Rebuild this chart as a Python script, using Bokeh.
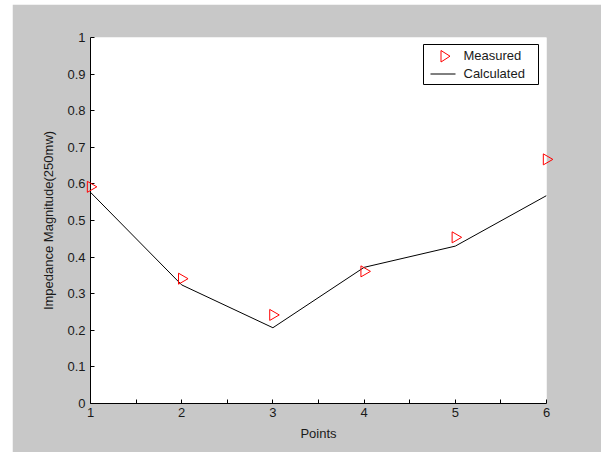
from bokeh.plotting import figure
from bokeh.models import FixedTicker, Range1d, BoxAnnotation, PolyAnnotation, Label
from bokeh.embed import file_html
from bokeh.resources import INLINE

points = [1, 2, 3, 4, 5, 6]
measured = [0.592, 0.341, 0.242, 0.361, 0.454, 0.667]
calculated = [0.577, 0.324, 0.207, 0.372, 0.430, 0.568]
y_ticks = [0, 0.1, 0.2, 0.3, 0.4, 0.5, 0.6, 0.7, 0.8, 0.9, 1]
y_labels = ["0", "0.1", "0.2", "0.3", "0.4", "0.5", "0.6", "0.7", "0.8", "0.9", "1"]
x_minor = [1.5, 2.5, 3.5, 4.5, 5.5]
legend_labels = ["Measured", "Calculated"]

FONT = "Liberation Sans"
GRAY = "#c8c8c8"
TXT = "#1a1a1a"

W, H = 589, 448
BL, BR, BT, BB = 78, 55, 33, 49
p = figure(width=W, height=H, output_backend="svg", toolbar_location=None,
           x_range=Range1d(1, 6), y_range=Range1d(0, 1),
           min_border_left=BL, min_border_right=BR, min_border_top=BT, min_border_bottom=BB,
           styles={"margin-left": "12px", "margin-top": "4px"})
p.border_fill_color = GRAY
p.background_fill_color = "white"
p.outline_line_color = None
p.xgrid.visible = False
p.ygrid.visible = False

p.line(points, calculated, line_color="black", line_width=1)
p.scatter(points, measured, marker="triangle", angle=-1.5707963, size=11,
          line_color="red", fill_color=None, line_width=1, level="overlay")

for ax in (p.xaxis[0], p.yaxis[0]):
    ax.axis_line_color = "black"
    ax.major_tick_line_color = "black"
    ax.minor_tick_line_color = "black"
    ax.major_tick_in = 4
    ax.major_tick_out = 0
    ax.minor_tick_in = 4
    ax.minor_tick_out = 0
    ax.major_label_text_font = FONT
    ax.major_label_text_font_size = "13px"
    ax.major_label_text_color = TXT
    ax.axis_label_text_font = FONT
    ax.axis_label_text_font_size = "13px"
    ax.axis_label_text_font_style = "normal"
    ax.axis_label_text_color = TXT

p.xaxis.ticker = FixedTicker(ticks=points, minor_ticks=x_minor)
p.yaxis.ticker = FixedTicker(ticks=y_ticks, minor_ticks=[])
p.yaxis.major_label_overrides = {t: l for t, l in zip(y_ticks, y_labels)}
p.xaxis.major_label_standoff = 4
p.yaxis.major_label_standoff = 5
p.xaxis.axis_label = "Points"
p.yaxis.axis_label = "Impedance Magnitude(250mw)"
p.xaxis.axis_label_standoff = 6
p.yaxis.axis_label_standoff = 8

# Legend drawn with annotations in screen units (relative to frame: x from left, y from bottom)
FB = H - BB  # frame bottom, from figure top


def sx(x):
    return x - BL


def sy(y):
    return FB - y


p.add_layout(BoxAnnotation(left=sx(411), right=sx(526), top=sy(40), bottom=sy(80),
                           left_units="screen", right_units="screen",
                           top_units="screen", bottom_units="screen",
                           fill_color="white", fill_alpha=1,
                           line_color="black", line_alpha=1, line_width=1, level="overlay"))
p.add_layout(PolyAnnotation(xs=[sx(428.5), sx(428.5), sx(437.5)], ys=[sy(46), sy(57.5), sy(51.7)],
                            xs_units="screen", ys_units="screen",
                            fill_color=None, fill_alpha=0, line_color="red", line_alpha=1,
                            line_width=1, level="overlay"))
p.add_layout(PolyAnnotation(xs=[sx(418), sx(443)], ys=[sy(69.5), sy(69.5)],
                            xs_units="screen", ys_units="screen",
                            fill_color=None, fill_alpha=0, line_color="black", line_alpha=1,
                            line_width=1, level="overlay"))
for lbl, yc in zip(legend_labels, [51, 68.5]):
    p.add_layout(Label(x=sx(451), y=sy(yc), x_units="screen", y_units="screen",
                       text=lbl, text_font=FONT, text_font_size="13px",
                       text_color=TXT, text_baseline="middle", text_align="left",
                       level="overlay"))

open("out.html", "w").write(file_html(p, INLINE))
